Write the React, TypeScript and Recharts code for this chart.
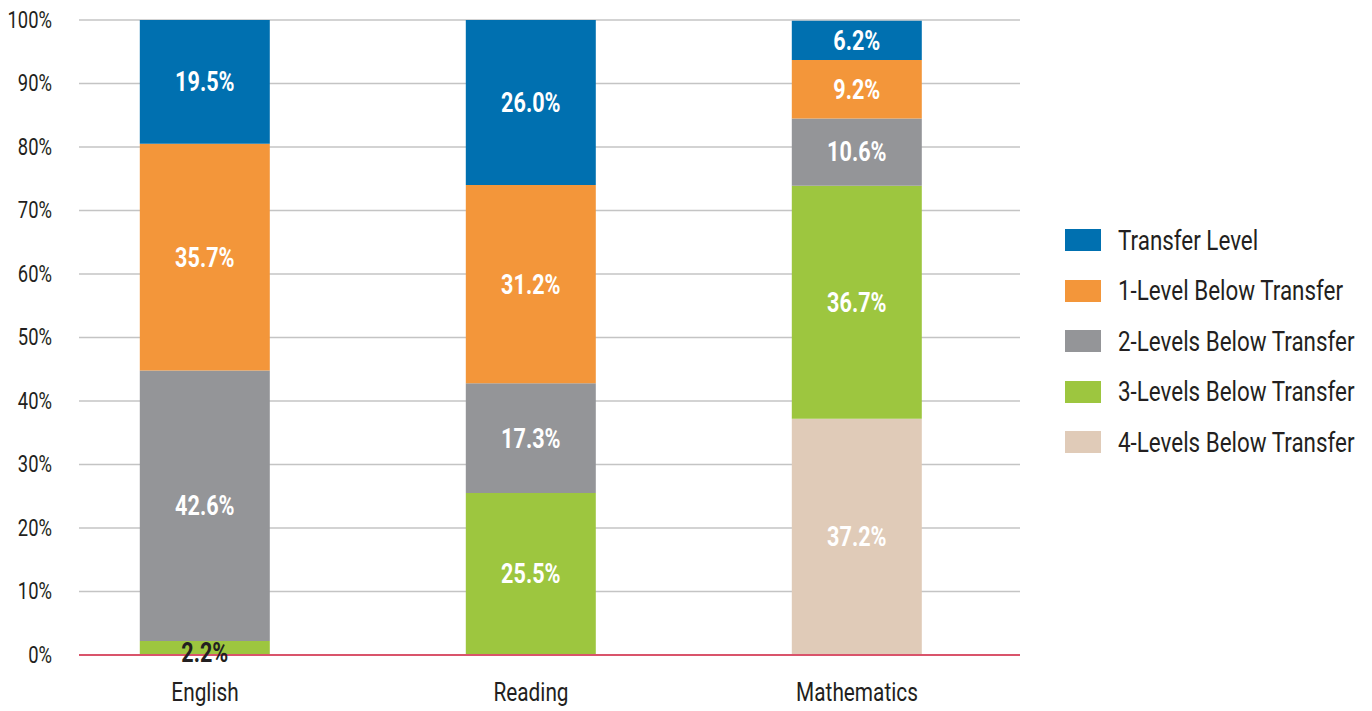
import React from "react";
import {
  BarChart,
  Bar,
  XAxis,
  YAxis,
  CartesianGrid,
  Legend,
  LabelList,
  ReferenceLine,
} from "recharts";

const categories = ["English", "Reading", "Mathematics"];
const transferLevel = [19.5, 26.0, 6.2];
const oneBelow = [35.7, 31.2, 9.2];
const twoBelow = [42.6, 17.3, 10.6];
const threeBelow = [2.2, 25.5, 36.7];
const fourBelow = [0, 0, 37.2];
const yTicks = [0, 10, 20, 30, 40, 50, 60, 70, 80, 90, 100];

const seriesDefs = [
  { key: "four", name: "4-Levels Below Transfer", color: "#e0cbb8", values: fourBelow },
  { key: "three", name: "3-Levels Below Transfer", color: "#9dc63f", values: threeBelow },
  { key: "two", name: "2-Levels Below Transfer", color: "#949598", values: twoBelow },
  { key: "one", name: "1-Level Below Transfer", color: "#f3963a", values: oneBelow },
  { key: "transfer", name: "Transfer Level", color: "#0070b0", values: transferLevel },
];

const data = categories.map((c, i) => {
  const row: Record<string, any> = { name: c };
  seriesDefs.forEach((s) => {
    row[s.key] = s.values[i];
  });
  return row;
});

const FONT = "Roboto, 'Liberation Sans', sans-serif";
const TEXT = "#231f20";
const SX = 0.8;

const CondText = ({
  x,
  y,
  anchor,
  size,
  weight,
  fill,
  baseline,
  dy,
  children,
}: any) => (
  <text
    transform={`translate(${x} ${y}) scale(${SX} 1)`}
    x={0}
    y={0}
    dy={dy}
    textAnchor={anchor}
    dominantBaseline={baseline}
    fill={fill}
    fontFamily={FONT}
    fontWeight={weight}
    fontSize={size}
  >
    {children}
  </text>
);

const renderLabel = (props: any) => {
  const { x, y, width, height, value } = props;
  if (!value) return null;
  const cx = Number(x) + Number(width) / 2;
  const small = value < 5;
  const cy = small ? Number(y) + Number(height) - 2 : Number(y) + Number(height) / 2;
  return (
    <CondText
      x={cx}
      y={cy}
      anchor="middle"
      baseline="central"
      fill={small ? TEXT : "#ffffff"}
      weight="bold"
      size={27}
    >
      {value.toFixed(1) + "%"}
    </CondText>
  );
};

const YTick = (props: any) => (
  <CondText x={props.x} y={props.y} anchor="end" baseline="central" fill={TEXT} weight="normal" size={23}>
    {props.payload.value + "%"}
  </CondText>
);

const XTick = (props: any) => (
  <CondText x={props.x} y={props.y} anchor="middle" dy="0.71em" fill={TEXT} weight="normal" size={26}>
    {props.payload.value}
  </CondText>
);

const legendOrder = [...seriesDefs].reverse();

const renderLegend = () => (
  <div style={{ width: 340, paddingLeft: 45, boxSizing: "border-box", fontFamily: FONT }}>
    {legendOrder.map((s) => (
      <div
        key={s.key}
        style={{ height: 50.5, display: "flex", alignItems: "center", whiteSpace: "nowrap" }}
      >
        <div style={{ width: 36, height: 22, background: s.color, marginRight: 17, flexShrink: 0 }} />
        <span
          style={{
            fontSize: 28,
            color: TEXT,
            display: "inline-block",
            transform: `scaleX(${SX})`,
            transformOrigin: "left center",
          }}
        >
          {s.name}
        </span>
      </div>
    ))}
  </div>
);

export default function App() {
  return (
    <BarChart
      width={1356}
      height={700}
      data={data}
      margin={{ top: 12, right: 4, bottom: 0, left: 0 }}
      barCategoryGap="30%"
    >
      <CartesianGrid horizontal vertical={false} stroke="#c4c4c4" strokeWidth={1.5} />
      <XAxis
        dataKey="name"
        height={53}
        tickLine={false}
        tickSize={0}
        tickMargin={28}
        axisLine={{ stroke: "#d9546b", strokeWidth: 2 }}
        padding={{ left: -37, right: 0 }}
        tick={<XTick />}
      />
      <YAxis
        width={71}
        domain={[0, 100]}
        ticks={yTicks}
        axisLine={false}
        tickLine={false}
        tickSize={0}
        tickMargin={27}
        interval={0}
        tick={<YTick />}
      />
      <Legend
        layout="vertical"
        align="right"
        verticalAlign="top"
        content={renderLegend}
        wrapperStyle={{ top: 207 }}
      />
      {seriesDefs.map((s) => (
        <Bar key={s.key} dataKey={s.key} name={s.name} stackId="a" fill={s.color} isAnimationActive={false}>
          <LabelList dataKey={s.key} content={renderLabel} />
        </Bar>
      ))}
      <ReferenceLine y={0} stroke="#d9546b" strokeWidth={2} />
    </BarChart>
  );
}
